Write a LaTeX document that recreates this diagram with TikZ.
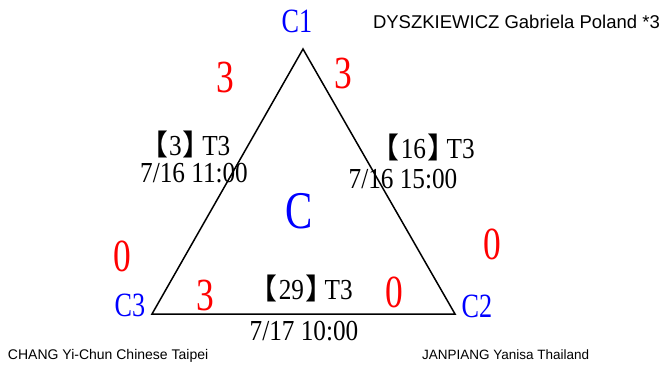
\documentclass[tikz,border=0pt]{standalone}
\usepackage{fontspec}
\setmainfont{Liberation Serif}
\newfontfamily\cond[FakeStretch=0.77]{Liberation Serif}
\newfontfamily\condi[FakeStretch=0.87]{Liberation Serif}
\newfontfamily\cjk[RawFeature=+halt]{Noto Sans CJK SC}
\newfontfamily\arialf{Liberation Sans}
\newcommand{\lbk}{{\cjk 【}\kern1pt}
\newcommand{\rbk}{\kern1pt{\cjk 】}\kern5pt}
\begin{document}
\begin{tikzpicture}[x=1pt,y=-1pt,
  every node/.style={inner sep=0pt,outer sep=0pt},
  corner/.style={anchor=base,text=blue,font=\cond\fontsize{34}{34}\selectfont},
  score/.style={anchor=base,text=red,font=\cond\fontsize{46}{46}\selectfont},
  info/.style={anchor=base,text=black,font=\condi\fontsize{29}{29}\selectfont},
  player/.style={anchor=base west,text=black,font=\arialf\fontsize{14}{14}\selectfont},
  edge/.style={line width=1.5pt,line join=miter}]
\useasboundingbox (0,0) rectangle (661,365);
\coordinate (A) at (303,49);
\coordinate (B) at (152,314);
\coordinate (D) at (455,314);
\draw[edge] (A) -- (B) -- (D) -- cycle;
% corner labels
\node[corner] (c1) at (297,32) {C1};
\node[corner] (c3) at (130,316) {C3};
\node[corner] (c2) at (477,317) {C2};
\node[anchor=base,text=blue,font=\cond\fontsize{53}{53}\selectfont] (grp) at (299,228) {C};
% scores
\node[score] (s1) at (225,92) {3};
\node[score] (s2) at (343,88) {3};
\node[score] (s3) at (122,271) {0};
\node[score] (s4) at (492,259) {0};
\node[score] (s5) at (205,310) {3};
\node[score] (s6) at (394,307) {0};
% match info
\node[info] (m1) at (192,155) {\lbk 3\rbk T3};
\node[info] (d1) at (194,182) {7/16 11:00};
\node[info] (m2) at (430,158) {\lbk 16\rbk T3};
\node[info] (d2) at (403,188) {7/16 15:00};
\node[info] (m3) at (308,299) {\lbk 29\rbk T3};
\node[info] (d3) at (304,340) {7/17 10:00};
% players
\node[player,font=\arialf\fontsize{18.5}{18.5}\selectfont] (p1) at (373,28) {DYSZKIEWICZ Gabriela Poland *3};
\node[player] (p3) at (8,359) {CHANG Yi-Chun Chinese Taipei};
\node[player,font=\arialf\fontsize{13.5}{13.5}\selectfont] (p2) at (422,359) {JANPIANG Yanisa Thailand};
\end{tikzpicture}
\end{document}
